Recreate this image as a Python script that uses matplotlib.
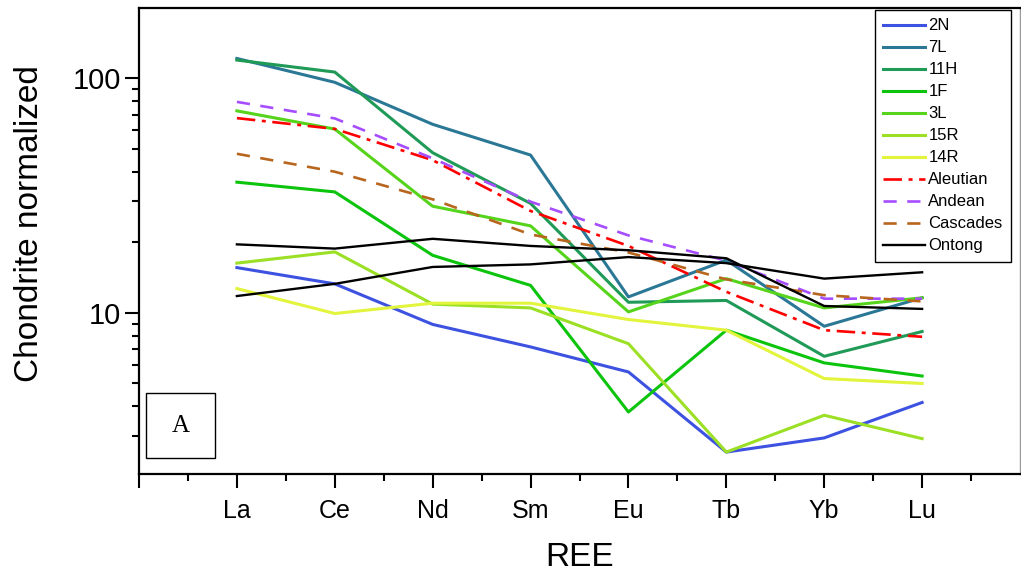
import numpy as np
import matplotlib
matplotlib.use("Agg")
import matplotlib.pyplot as plt
from matplotlib.ticker import FixedLocator, NullFormatter, FixedFormatter
from matplotlib.patches import Rectangle

# REE patterns normalised to chondrite
ree = ["La", "Ce", "Nd", "Sm", "Eu", "Tb", "Yb", "Lu"]

s_2N = [15.6, 13.3, 8.93, 7.16, 5.60, 2.55, 2.93, 4.15]
s_7L = [121.6, 96.2, 63.7, 47.1, 11.7, 16.8, 8.77, 11.6]
s_11H = [119.7, 106.4, 48.2, 29.3, 11.1, 11.3, 6.53, 8.33]
s_1F = [36.1, 32.8, 17.6, 13.1, 3.78, 8.44, 6.12, 5.38]
s_3L = [72.7, 60.8, 28.5, 23.5, 10.1, 14.0, 10.5, 11.6]
s_15R = [16.3, 18.2, 10.9, 10.5, 7.39, 2.55, 3.66, 2.91]
s_14R = [12.7, 9.94, 11.0, 11.0, 9.37, 8.44, 5.25, 5.00]

aleutian = [67.7, 60.9, 44.8, 27.2, 19.3, 12.3, 8.44, 7.91]
andean = [79.4, 67.5, 45.6, 29.8, 21.4, 16.7, 11.5, 11.5]
cascades = [47.7, 40.0, 30.5, 21.6, 18.1, 13.9, 11.9, 11.2]
ontong_a = [19.6, 18.8, 20.7, 19.3, 18.5, 17.1, 10.7, 10.4]
ontong_b = [11.8, 13.3, 15.7, 16.1, 17.3, 16.3, 14.0, 14.9]

samples = [
    ("2N", s_2N, "#3d52e0"),
    ("7L", s_7L, "#2a7896"),
    ("11H", s_11H, "#1f9a57"),
    ("1F", s_1F, "#0cc40c"),
    ("3L", s_3L, "#56d41c"),
    ("15R", s_15R, "#9be024"),
    ("14R", s_14R, "#e2f43c"),
]

plt.rcParams["font.family"] = ["Liberation Sans", "DejaVu Sans"]

fig = plt.figure(figsize=(10.21, 5.73), dpi=100)
ax = fig.add_axes([139 / 1021, 1 - 474.3 / 573, (1020 - 139) / 1021, (474.3 - 8.3) / 573])

x = np.arange(1, len(ree) + 1)

for name, vals, col in samples:
    ax.plot(x, vals, color=col, lw=2.2, label=name)

ax.plot(x, aleutian, color="#ff0000", lw=1.9, ls=(0, (7, 2.5, 1.5, 2.5)), label="Aleutian")
ax.plot(x, andean, color="#a64dff", lw=1.9, ls=(0, (5, 4)), label="Andean")
ax.plot(x, cascades, color="#b8651e", lw=1.9, ls=(0, (5, 4)), label="Cascades")
ax.plot(x, ontong_a, color="black", lw=1.7, label="Ontong")
ax.plot(x, ontong_b, color="black", lw=1.7)

ax.set_yscale("log")
ax.set_xlim(0, 9)
ax.set_ylim(2.05, 199)

# ticks
ax.xaxis.set_major_locator(FixedLocator(list(range(0, 9))))
ax.xaxis.set_major_formatter(FixedFormatter([""] + ree))
ax.xaxis.set_minor_locator(FixedLocator(np.arange(0.5, 9, 1.0)))
ax.yaxis.set_major_locator(FixedLocator([10, 100]))
ax.yaxis.set_major_formatter(FixedFormatter(["10", "100"]))
ax.yaxis.set_minor_locator(FixedLocator([3, 4, 5, 6, 7, 8, 9, 20, 30, 40, 50, 60, 70, 80, 90]))
ax.yaxis.set_minor_formatter(NullFormatter())

ax.tick_params(axis="both", which="major", direction="out", length=10, width=1.5)
ax.tick_params(axis="both", which="minor", direction="out", length=5, width=1.5)
ax.tick_params(axis="x", labelsize=18, pad=8)
ax.tick_params(axis="y", labelsize=21, pad=3)

for sp in ax.spines.values():
    sp.set_linewidth(1.6)
ax.spines["right"].set_color("#999999")
ax.spines["right"].set_linewidth(1.0)

ax.set_ylabel("Chondrite normalized", fontsize=24)
ax.yaxis.set_label_coords(-0.107, 0.539)
ax.set_xlabel("REE", fontsize=24)
ax.xaxis.set_label_coords(0.5, -0.146)

# panel tag
ax.add_patch(Rectangle((146 / 1021, 1 - 458 / 573), 69 / 1021, 65 / 573,
                       transform=fig.transFigure, fill=False, lw=1.0, ec="black"))
fig.text(180.5 / 1021, 1 - 425.5 / 573, "A", family="Liberation Serif",
         fontsize=18, ha="center", va="center")

leg = ax.legend(loc="upper left", bbox_to_anchor=(875 / 1021, 1 - 10 / 573),
                bbox_transform=fig.transFigure, borderaxespad=0, fontsize=12,
                handlelength=2.5, handletextpad=0.2, labelspacing=0.42,
                borderpad=0.5, fancybox=False, framealpha=1)
leg.get_frame().set_edgecolor("black")
leg.get_frame().set_linewidth(1.0)

fig.savefig("out.png", dpi=100)
